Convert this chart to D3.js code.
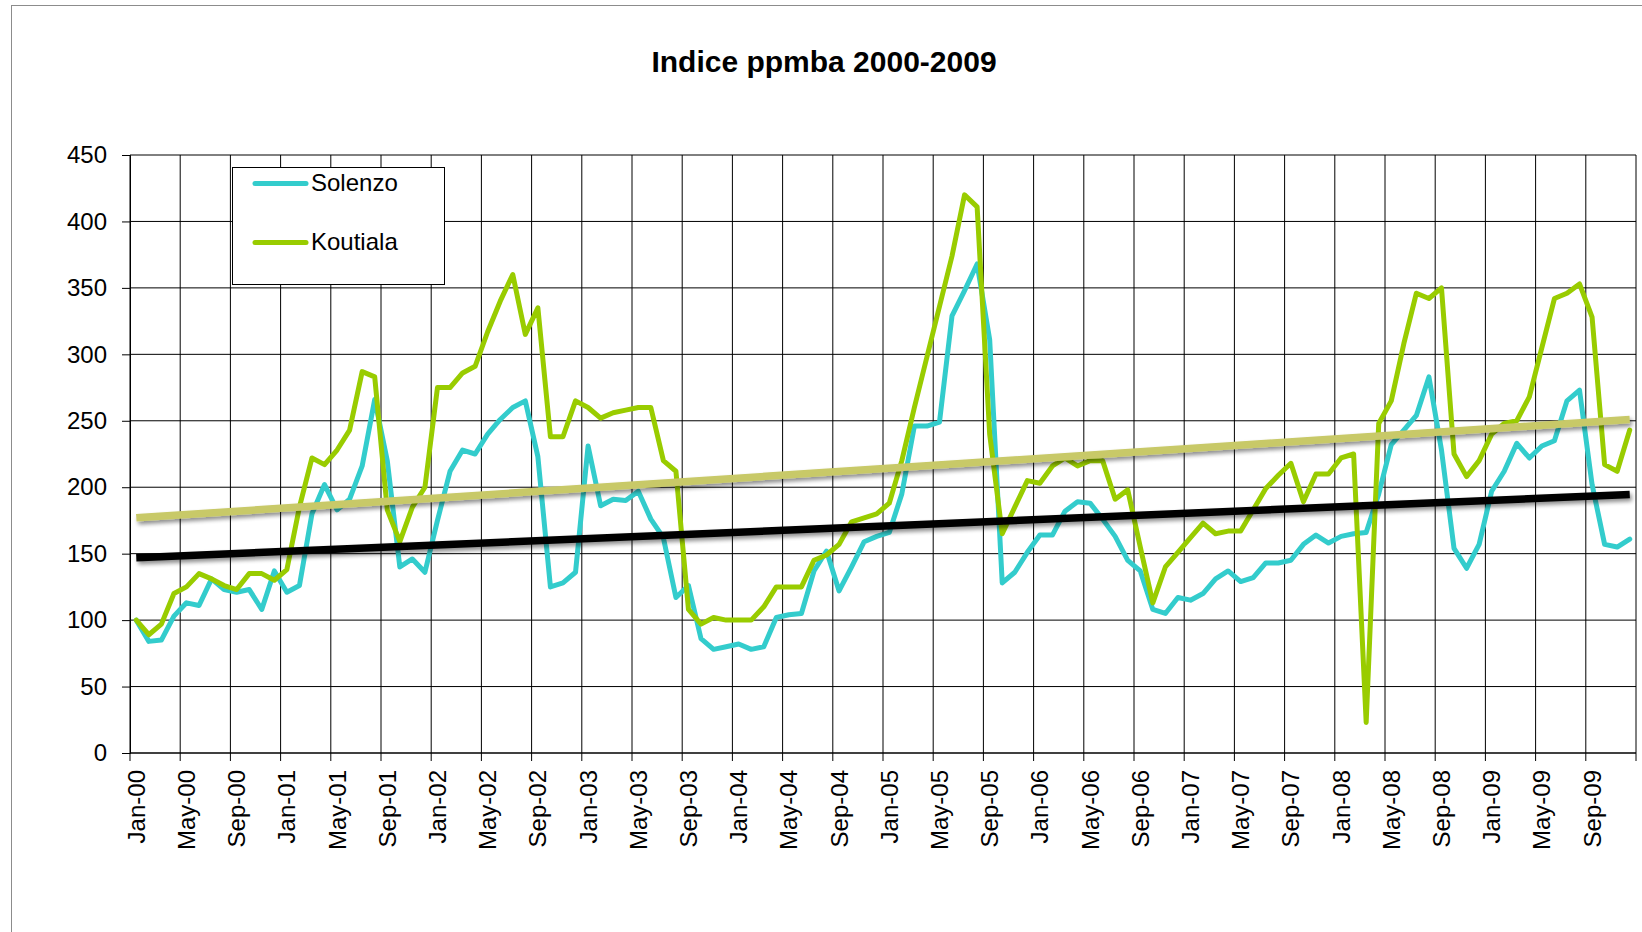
<!DOCTYPE html>
<html>
<head>
<meta charset="utf-8">
<script src="https://cdn.jsdelivr.net/npm/d3@7"></script>
<style>
  html, body { margin: 0; padding: 0; background: #fff; }
  svg { display: block; font-family: "Liberation Sans", Arial, sans-serif; }
</style>
</head>
<body>
<svg id="chart" width="1642" height="932"></svg>
<script>
// ---- DATA ----
const title = "Indice ppmba 2000-2009";
const monthNames = ["Jan","Feb","Mar","Apr","May","Jun","Jul","Aug","Sep","Oct","Nov","Dec"];
const years = ["00","01","02","03","04","05","06","07","08","09"];
const categories = years.flatMap(y => monthNames.map(m => m + "-" + y));
const xTickLabels = categories.filter((c, i) => i % 4 === 0);
const yTicks = [0, 50, 100, 150, 200, 250, 300, 350, 400, 450];

const seriesNames = ["Solenzo", "Koutiala"];
const solenzo = [
  100, 84, 85, 103, 113, 111, 131, 123, 121, 123, 108, 137,
  121, 126, 180, 202, 183, 191, 216, 266, 220, 140, 146, 136,
  175, 212, 228, 225, 240, 251, 260, 265, 223, 125, 128, 136,
  231, 186, 191, 190, 197, 176, 162, 117, 126, 86, 78, 80,
  82, 78, 80, 102, 104, 105, 137, 152, 122, 140, 159, 163,
  166, 195, 246, 246, 249, 329, 348, 368, 311, 128, 136, 151,
  164, 164, 182, 189, 188, 176, 163, 145, 137, 108, 105, 117,
  115, 120, 131, 137, 129, 132, 143, 143, 145, 157, 164, 158,
  163, 165, 166, 195, 232, 243, 254, 283, 228, 154, 139, 157,
  197, 212, 233, 222, 231, 235, 265, 273, 202, 157, 155, 161
];
const koutiala = [
  100, 89, 97, 120, 125, 135, 131, 126, 123, 135, 135, 130,
  138, 185, 222, 217, 228, 243, 287, 283, 183, 159, 185, 200,
  275, 275, 286, 291, 317, 340, 360, 315, 335, 238, 238, 265,
  260, 252, 256, 258, 260, 260, 220, 212, 108, 97, 102, 100,
  100, 100, 110, 125, 125, 125, 145, 149, 157, 174, 177, 180,
  188, 220, 260, 298, 336, 374, 420, 411, 240, 165, 185, 205,
  203, 216, 222, 216, 220, 220, 191, 198, 155, 113, 140, 151,
  162, 173, 165, 167, 167, 183, 199, 209, 218, 189, 210, 210,
  222, 225, 23, 248, 265, 308, 346, 342, 350, 225, 208, 220,
  240, 248, 250, 268, 305, 342, 346, 353, 328, 217, 212, 243
];
// linear trend lines (value at first and last month)
const solenzoTrend = [147, 194.5];
const koutialaTrend = [177, 251];

// ---- LAYOUT ----
const plotLeft = 130, plotRight = 1636, plotTop = 155, plotBottom = 753;
const colors = { Solenzo: "#33CCCC", Koutiala: "#99CC00" };
const trendColors = { Solenzo: "#000000", Koutiala: "#C8C968" };

const svg = d3.select("#chart");

const defs = svg.append("defs");
const f = defs.append("filter").attr("id", "shadow")
  .attr("x", "-5%").attr("y", "-200%").attr("width", "110%").attr("height", "500%");
f.append("feGaussianBlur").attr("in", "SourceAlpha").attr("stdDeviation", 2).attr("result", "b");
f.append("feOffset").attr("in", "b").attr("dx", 2).attr("dy", 3).attr("result", "o");
f.append("feComponentTransfer").attr("in", "o").attr("result", "s")
  .append("feFuncA").attr("type", "linear").attr("slope", 0.45);
const mg = f.append("feMerge");
mg.append("feMergeNode").attr("in", "s");
mg.append("feMergeNode").attr("in", "SourceGraphic");

// outer chart border
svg.append("rect").attr("x", 11.5).attr("y", 5.5).attr("width", 1700).attr("height", 1000)
  .attr("fill", "none").attr("stroke", "#8c8c8c").attr("stroke-width", 1);

const x = d3.scaleBand().domain(categories).range([plotLeft, plotRight]).padding(0);
const y = d3.scaleLinear().domain([0, 450]).range([plotBottom, plotTop]);
const cx = c => x(c) + x.bandwidth() / 2;

// title
svg.append("text").attr("x", 824).attr("y", 72).attr("text-anchor", "middle")
  .attr("font-size", 30).attr("font-weight", "bold").attr("fill", "#000").text(title);

// horizontal gridlines
const g = svg.append("g");
g.selectAll("line.h").data(yTicks.filter(t => t > 0)).enter().append("line")
  .attr("x1", plotLeft).attr("x2", plotRight).attr("y1", d => y(d)).attr("y2", d => y(d))
  .attr("stroke", "#000").attr("stroke-width", 1);
// vertical gridlines at every 4th category boundary
const boundaries = d3.range(0, categories.length + 1, 4);
const bx = k => k < categories.length ? x(categories[k]) : plotRight;
g.selectAll("line.v").data(boundaries).enter().append("line")
  .attr("x1", d => bx(d)).attr("x2", d => bx(d)).attr("y1", plotTop).attr("y2", plotBottom + 8)
  .attr("stroke", "#000").attr("stroke-width", 1);

// y axis
const yAxis = d3.axisLeft(y).tickValues(yTicks).tickSize(8).tickPadding(15).tickFormat(d3.format("d"));
const ya = svg.append("g").attr("transform", `translate(${plotLeft},0)`).call(yAxis);
ya.select(".domain").attr("stroke", "#000");
ya.selectAll(".tick line").attr("stroke", "#000");
ya.selectAll("text").attr("font-size", 24).attr("fill", "#000")
  .attr("font-family", "Liberation Sans, Arial, sans-serif");

// x axis line
svg.append("line").attr("x1", plotLeft).attr("x2", plotRight).attr("y1", plotBottom).attr("y2", plotBottom)
  .attr("stroke", "#000").attr("stroke-width", 1.5);

// x labels
svg.append("g").selectAll("text").data(xTickLabels).enter().append("text")
  .attr("transform", d => `translate(${cx(d)},770) rotate(-90)`)
  .attr("text-anchor", "end").attr("dominant-baseline", "central")
  .attr("font-size", 24).attr("fill", "#000").text(d => d);

// series lines
const line = d3.line().x((d, i) => cx(categories[i])).y(d => y(d));
const seriesData = { Solenzo: solenzo, Koutiala: koutiala };
seriesNames.forEach(name => {
  svg.append("path").datum(seriesData[name]).attr("d", line)
    .attr("fill", "none").attr("stroke", colors[name]).attr("stroke-width", 5)
    .attr("stroke-linejoin", "round").attr("stroke-linecap", "round");
});

// trend lines
const trends = { Solenzo: solenzoTrend, Koutiala: koutialaTrend };
seriesNames.forEach(name => {
  const t = trends[name];
  svg.append("line")
    .attr("x1", cx(categories[0])).attr("x2", cx(categories[categories.length - 1]))
    .attr("y1", y(t[0])).attr("y2", y(t[1]))
    .attr("stroke", trendColors[name]).attr("stroke-width", 7.5)
    .attr("filter", "url(#shadow)");
});

// legend
const lg = svg.append("g");
lg.append("rect").attr("x", 232.5).attr("y", 167.5).attr("width", 212).attr("height", 117)
  .attr("fill", "#fff").attr("stroke", "#000").attr("stroke-width", 1);
seriesNames.forEach((name, i) => {
  const ly = 183.5 + i * 59;
  lg.append("line").attr("x1", 255).attr("x2", 306).attr("y1", ly).attr("y2", ly)
    .attr("stroke", colors[name]).attr("stroke-width", 5).attr("stroke-linecap", "round");
  lg.append("text").attr("x", 311).attr("y", ly - 1).attr("dominant-baseline", "central")
    .attr("font-size", 24).attr("fill", "#000").text(name);
});
</script>
</body>
</html>
